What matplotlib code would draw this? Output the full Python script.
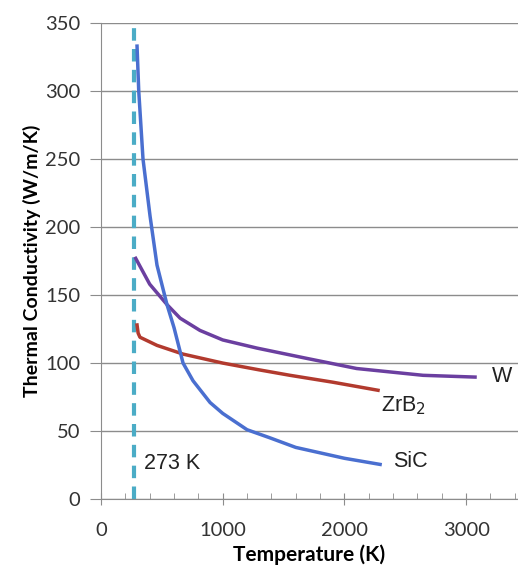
import matplotlib.pyplot as plt
from matplotlib.ticker import MultipleLocator

# SiC
sic_T = [296, 310, 345, 403, 460, 542, 600, 674, 756, 896, 1000, 1200, 1389, 1600, 1800, 2000, 2293]
sic_k = [333, 300, 250, 208, 172, 143, 126, 100, 87, 71, 63, 51, 45, 38, 34, 30, 25.5]

# W
w_T = [285, 400, 542, 650, 813, 1000, 1282, 1660, 2100, 2646, 3073]
w_k = [177, 158, 143, 133, 124, 117, 111, 104, 96, 91, 89.7]

# ZrB2
zr_T = [296, 305, 320, 460, 674, 1000, 1300, 1553, 1900, 2276]
zr_k = [128, 122, 119, 113, 106.6, 100, 95, 91, 86, 80]

ref_T = 273

fig = plt.figure(figsize=(5.18, 5.75), dpi=100)
ax = fig.add_axes([0.195, 0.132, 0.805, 0.828])

ax.axvline(ref_T, color='#4bacc6', lw=3, ls=(0, (3, 2)), zorder=1)
ax.plot(w_T, w_k, color='#6b3fa0', lw=2.5, zorder=3)
ax.plot(zr_T, zr_k, color='#b23a2e', lw=2.5, zorder=3)
ax.plot(sic_T, sic_k, color='#4a6fd0', lw=2.5, zorder=4)

txt = dict(family='Liberation Sans', fontsize=15.5, color='#222222')
ax.text(3210, 90, 'W', va='center', ha='left', **txt)
ax.text(2300, 69, 'ZrB$_2$', va='center', ha='left', **txt)
ax.text(2400, 28, 'SiC', va='center', ha='left', **txt)
ax.text(350, 26, '273 K', va='center', ha='left', **txt)

ax.set_xlim(0, 3426)
ax.set_ylim(0, 350)
ax.xaxis.set_major_locator(MultipleLocator(1000))
ax.xaxis.set_minor_locator(MultipleLocator(200))
ax.yaxis.set_major_locator(MultipleLocator(50))

ax.grid(axis='y', color='#8c8c8c', lw=1)
ax.set_axisbelow(True)
for s in ['top', 'right']:
    ax.spines[s].set_visible(False)
for s in ['left', 'bottom']:
    ax.spines[s].set_color('#8c8c8c')

ax.tick_params(axis='x', which='major', direction='inout', length=9, color='#8c8c8c',
               labelsize=14.5, labelcolor='#333333', pad=12)
ax.tick_params(axis='x', which='minor', direction='in', length=4, color='#8c8c8c')
ax.tick_params(axis='y', which='major', direction='out', length=8, color='#8c8c8c',
               labelsize=14.5, labelcolor='#333333', pad=7)
for lab in ax.get_xticklabels() + ax.get_yticklabels():
    lab.set_family('Lato')

ax.set_xlabel('Temperature (K)', fontsize=15, fontweight='bold', family='Lato', labelpad=4)
ax.set_ylabel('Thermal Conductivity (W/m/K)', fontsize=14, fontweight='bold', family='Lato', labelpad=3)

fig.savefig('out.png', dpi=100)
